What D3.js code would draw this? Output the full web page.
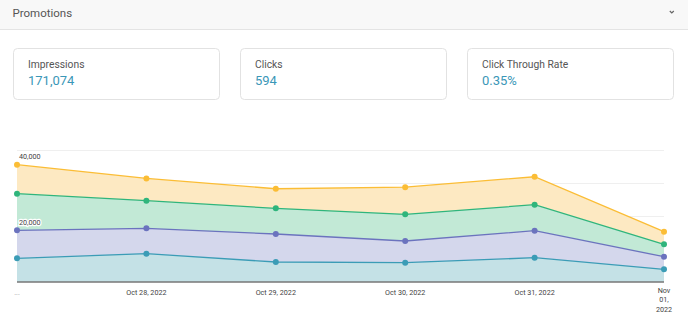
<!DOCTYPE html>
<html>
<head>
<meta charset="utf-8">
<script src="https://cdn.jsdelivr.net/npm/d3@7"></script>
<style>
  html, body { margin: 0; padding: 0; background: #fff; }
  body { width: 688px; height: 334px; overflow: hidden; font-family: Roboto, "Noto Sans", sans-serif; }
  svg { display: block; }
</style>
</head>
<body>
<svg id="chart" width="688" height="334"></svg>
<script>
// Daily promotion impressions, stacked by source
const dates = ["Oct 27, 2022", "Oct 28, 2022", "Oct 29, 2022", "Oct 30, 2022", "Oct 31, 2022", "Nov 01, 2022"];
const xLabels = ["...", "Oct 28, 2022", "Oct 29, 2022", "Oct 30, 2022", "Oct 31, 2022", "Nov 01, 2022"];
const seriesTeal   = [7180, 8580, 6060, 5850, 7360, 3850];
const seriesPurple = [8490, 7700, 8480, 6580, 8180, 3820];
const seriesGreen  = [11090, 8360, 7790, 8090, 7880, 3760];
const seriesYellow = [8780, 6750, 5930, 8230, 8480, 3830];
const yTicks = [20000, 40000];
const gridValues = [10000, 20000, 30000, 40000];

const stats = [
  { label: "Impressions", value: "171,074" },
  { label: "Clicks", value: "594" },
  { label: "Click Through Rate", value: "0.35%" }
];

const svg = d3.select("#chart");

// Header bar
svg.append("rect").attr("x", 0).attr("y", 0).attr("width", 688).attr("height", 29.5).attr("fill", "#f8f8f8");
svg.append("line").attr("x1", 0).attr("x2", 688).attr("y1", 29.5).attr("y2", 29.5).attr("stroke", "#e4e4e4");
svg.append("text").attr("x", 12.5).attr("y", 16.8).text("Promotions")
  .attr("font-size", 11.5).attr("fill", "#555");
svg.append("path").attr("d", "M669.8,11 L671.8,13 L673.8,11")
  .attr("fill", "none").attr("stroke", "#666").attr("stroke-width", 1.2);

// Summary cards
const cardX = [13.5, 240.5, 467.5];
const cards = svg.selectAll("g.card").data(stats).join("g")
  .attr("class", "card")
  .attr("transform", (d, i) => `translate(${cardX[i]},48.5)`);
cards.append("rect").attr("width", 206).attr("height", 51).attr("rx", 4)
  .attr("fill", "#fff").attr("stroke", "#e2e2e2");
cards.append("text").attr("x", 14.5).attr("y", 19).text(d => d.label)
  .attr("font-size", 10.3).attr("fill", "#555");
cards.append("text").attr("x", 14.5).attr("y", 36.8).text(d => d.value)
  .attr("font-size", 13).attr("fill", "#3a97b7");

// Chart area
const x0 = 17, x1 = 664, yBase = 282;
const x = d3.scalePoint().domain(dates).range([x0, x1]);
const y = d3.scaleLinear().domain([0, 40000]).range([yBase, 150]);

const layers = [
  { name: "teal", values: seriesTeal, line: "#3b9cb6", fill: "#c4e1e6" },
  { name: "purple", values: seriesPurple, line: "#6b73be", fill: "#d4d7ec" },
  { name: "green", values: seriesGreen, line: "#2fb57c", fill: "#c2e9d6" },
  { name: "yellow", values: seriesYellow, line: "#fbbd35", fill: "#fde9c2" }
];
const rows = dates.map((d, i) => {
  const r = { date: d };
  layers.forEach(l => r[l.name] = l.values[i]);
  return r;
});
const stacked = d3.stack().keys(layers.map(l => l.name))(rows);

// Gridlines
svg.append("g").selectAll("line").data(gridValues).join("line")
  .attr("x1", x0).attr("x2", x1)
  .attr("y1", d => Math.round(y(d)) + 0.5).attr("y2", d => Math.round(y(d)) + 0.5)
  .attr("stroke", "#efefef");

const area = d3.area().x((d, i) => x(dates[i])).y0(d => y(d[0])).y1(d => y(d[1]));
const line = d3.line().x((d, i) => x(dates[i])).y(d => y(d[1]));

const g = svg.append("g");
stacked.forEach((s, k) => {
  g.append("path").attr("d", area(s)).attr("fill", layers[k].fill);
});
stacked.forEach((s, k) => {
  g.append("path").attr("d", line(s)).attr("fill", "none")
    .attr("stroke", layers[k].line).attr("stroke-width", 1.3);
  g.selectAll(null).data(s).join("circle")
    .attr("cx", (d, i) => x(dates[i])).attr("cy", d => y(d[1])).attr("r", 3)
    .attr("fill", layers[k].line);
});

// Baseline axis
svg.append("line").attr("x1", x0).attr("x2", x1).attr("y1", yBase).attr("y2", yBase)
  .attr("stroke", "#777").attr("stroke-width", 1.6);

// Y labels inside the plot
svg.append("g").selectAll("text").data(yTicks).join("text")
  .attr("x", 19).attr("y", d => y(d) + 8.5)
  .text(d => d3.format(",")(d))
  .attr("font-size", 7.2).attr("fill", "#444")
  .attr("stroke", "#fff").attr("stroke-width", 2.5).attr("paint-order", "stroke");

// X labels
const xg = svg.append("g");
xLabels.forEach((lab, i) => {
  const cx = x(dates[i]);
  if (i === xLabels.length - 1) {
    const parts = ["Nov", "01,", "2022"];
    parts.forEach((p, j) => {
      xg.append("text").attr("x", cx).attr("y", 293 + j * 9.3).attr("text-anchor", "middle")
        .text(p).attr("font-size", 7.2).attr("fill", "#444");
    });
  } else if (lab === "...") {
    xg.append("text").attr("x", cx).attr("y", 294.5).attr("text-anchor", "middle")
      .text(lab).attr("font-size", 7).attr("fill", "#999");
  } else {
    xg.append("text").attr("x", cx).attr("y", 294.8).attr("text-anchor", "middle")
      .text(lab).attr("font-size", 7.2).attr("fill", "#444");
  }
});
</script>
</body>
</html>
